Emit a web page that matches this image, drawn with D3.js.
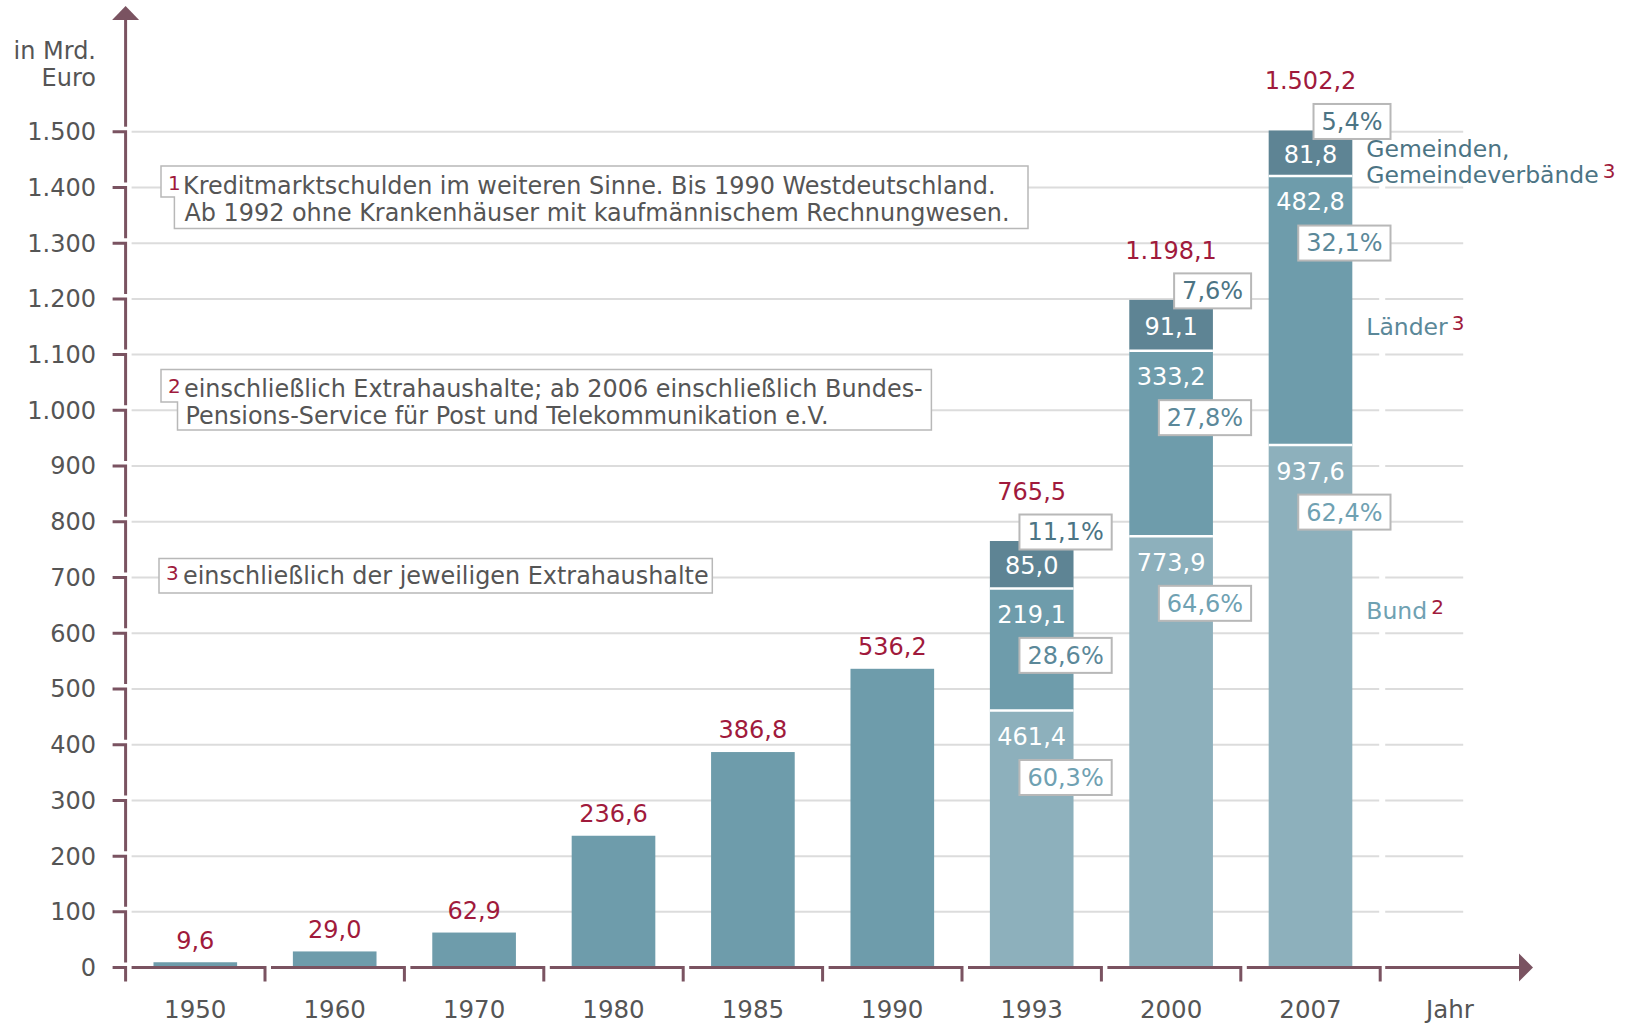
<!DOCTYPE html>
<html>
<head>
<meta charset="utf-8">
<script src="https://cdn.jsdelivr.net/npm/d3@7"></script>
<style>
  body { margin: 0; background: #fff; }
  svg { font-family: "DejaVu Sans", Verdana, sans-serif; }
</style>
</head>
<body>
<svg id="chart" width="1628" height="1024"></svg>
<script>
// data
var years = ["1950", "1960", "1970", "1980", "1985", "1990", "1993", "2000", "2007"];
var totals = [9.6, 29.0, 62.9, 236.6, 386.8, 536.2, 765.5, 1198.1, 1502.2];
var splitYears = ["1993", "2000", "2007"];
var bund = [461.4, 773.9, 937.6];
var laender = [219.1, 333.2, 482.8];
var gemeinden = [85.0, 91.1, 81.8];
var bundPct = [60.3, 64.6, 62.4];
var laenderPct = [28.6, 27.8, 32.1];
var gemeindenPct = [11.1, 7.6, 5.4];
var yTicks = [0, 100, 200, 300, 400, 500, 600, 700, 800, 900, 1000, 1100, 1200, 1300, 1400, 1500];

var notes = [
  { n: "1", lines: ["Kreditmarktschulden im weiteren Sinne. Bis 1990 Westdeutschland.",
                    "Ab 1992 ohne Krankenhäuser mit kaufmännischem Rechnungwesen."] },
  { n: "2", lines: ["einschließlich Extrahaushalte; ab 2006 einschließlich Bundes-",
                    "Pensions-Service für Post und Telekommunikation e.V."] },
  { n: "3", lines: ["einschließlich der jeweiligen Extrahaushalte"] }
];

var de = d3.formatLocale({ decimal: ",", thousands: ".", grouping: [3], currency: ["", " €"] });
var fmt1 = de.format(",.1f");
var fmtTick = de.format(",");

var axisCol = "#7a5361", red = "#a01a3c", grey = "#555", grid = "#dcdcdc";
var colBund = "#8db0bc", colLaender = "#6e9cab", colGem = "#5e8494";
var txtBund = "#6fa1b2", txtLaender = "#5b8899", txtGem = "#4c7484";
var fs = 24;

var svg = d3.select("#chart");

var x0 = 125.6, y0 = 967.6;
var x = d3.scaleBand().domain(years.concat(["Jahr"]))
  .range([x0, x0 + 10 * 139.4]).paddingInner(0.4).paddingOuter(0.2);
var step = x.step();
var y = d3.scaleLinear().domain([0, 1500]).range([y0, 131.7]);

// gridlines
var gEnd = x("Jahr") - step * 0.2;
yTicks.filter(function (t) { return t > 0; }).forEach(function (t) {
  svg.append("line").attr("x1", x0 + 6).attr("x2", gEnd - 1).attr("y1", y(t)).attr("y2", y(t))
    .attr("stroke", grid).attr("stroke-width", 2);
  svg.append("line").attr("x1", gEnd + 5).attr("x2", gEnd + 83).attr("y1", y(t)).attr("y2", y(t))
    .attr("stroke", grid).attr("stroke-width", 2);
});

// footnote boxes
var boxes = [
  { l: 161, li: 174.4, r: 1028, t: 166, s: 197, b: 228.5, tx: 183, by: 194 },
  { l: 161, li: 177.5, r: 931.4, t: 369.6, s: 402, b: 430, tx: 184, by: 397 },
  { l: 159, li: 159, r: 712.3, t: 558.6, s: 592.9, b: 592.9, tx: 183, by: 584 }
];
notes.forEach(function (nt, i) {
  var bx = boxes[i];
  svg.append("path")
    .attr("d", "M" + bx.l + "," + bx.t + "H" + bx.r + "V" + bx.b + "H" + bx.li + "V" + bx.s + "H" + bx.l + "Z")
    .attr("fill", "#fff").attr("stroke", "#b8b8b8").attr("stroke-width", 1.5);
  svg.append("text").attr("x", bx.l + 7).attr("y", bx.by - 4).attr("fill", red)
    .attr("font-size", 20).text(nt.n);
  nt.lines.forEach(function (ln, j) {
    svg.append("text").attr("x", bx.tx + j * 1.5).attr("y", bx.by + j * 27)
      .attr("fill", grey).attr("font-size", 23.9).text(ln);
  });
});

// single bars
var singles = years.filter(function (yr) { return splitYears.indexOf(yr) < 0; });
svg.selectAll("rect.single").data(singles).enter().append("rect")
  .attr("class", "single")
  .attr("x", function (d) { return x(d); })
  .attr("width", x.bandwidth())
  .attr("y", function (d) { return y(totals[years.indexOf(d)]); })
  .attr("height", function (d) { return y0 - y(totals[years.indexOf(d)]); })
  .attr("fill", colLaender);

svg.selectAll("text.single").data(singles).enter().append("text")
  .attr("x", function (d) { return x(d) + x.bandwidth() / 2; })
  .attr("y", function (d) { return y(totals[years.indexOf(d)]) - 22; })
  .attr("dy", "0.35em").attr("text-anchor", "middle")
  .attr("fill", red).attr("font-size", fs)
  .text(function (d) { return fmt1(totals[years.indexOf(d)]); });

// stacked bars
var rows = splitYears.map(function (yr, i) {
  return { year: yr, Bund: bund[i], Laender: laender[i], Gemeinden: gemeinden[i],
           pct: { Bund: bundPct[i], Laender: laenderPct[i], Gemeinden: gemeindenPct[i] } };
});
var keys = ["Bund", "Laender", "Gemeinden"];
var fills = { Bund: colBund, Laender: colLaender, Gemeinden: colGem };
var tcols = { Bund: txtBund, Laender: txtLaender, Gemeinden: txtGem };
var series = d3.stack().keys(keys)(rows);

series.forEach(function (s) {
  s.forEach(function (d) {
    var yr = d.data.year, bx = x(yr), bw = x.bandwidth();
    var top = y(d[1]), bot = y(d[0]);
    svg.append("rect").attr("x", bx).attr("width", bw).attr("y", top).attr("height", bot - top)
      .attr("fill", fills[s.key]);
    if (s.key !== "Bund") {
      svg.append("line").attr("x1", bx).attr("x2", bx + bw).attr("y1", bot).attr("y2", bot)
        .attr("stroke", "#fff").attr("stroke-width", 2.5);
    }
  });
});

series.forEach(function (s) {
  s.forEach(function (d) {
    var yr = d.data.year, bx = x(yr), bw = x.bandwidth(), cx = bx + bw / 2;
    var top = y(d[1]), bot = y(d[0]);
    var small = s.key === "Gemeinden";
    svg.append("text").attr("x", cx).attr("y", small ? (top + bot) / 2 + 1 : top + 26)
      .attr("dy", "0.35em").attr("text-anchor", "middle")
      .attr("fill", "#fff").attr("font-size", fs).text(fmt1(d[1] - d[0]));

    // percent box
    var cy = small ? top - 9 : top + 67;
    var g = svg.append("g");
    var t = g.append("text").attr("y", cy).attr("dy", "0.35em").attr("text-anchor", "end")
      .attr("fill", tcols[s.key]).attr("font-size", fs)
      .text(de.format(".1f")(d.data.pct[s.key]) + "%");
    var right = cx + 80;
    t.attr("x", right - 8);
    var w = t.node().getComputedTextLength() + 16;
    g.insert("rect", "text").attr("x", right - w).attr("y", cy - 17.5).attr("width", w).attr("height", 35)
      .attr("fill", "#fff").attr("stroke", "#b8b8b8").attr("stroke-width", 2);

    if (small) {
      svg.append("text").attr("x", cx).attr("y", cy - 17.5 - 23).attr("dy", "0.35em")
        .attr("text-anchor", "middle").attr("fill", red).attr("font-size", fs)
        .text(fmt1(totals[years.indexOf(yr)]));
    }
  });
});

// series labels at the right
var lx = x("2007") + x.bandwidth() + 14;
function seriesLabel(lines, cy, col, sup) {
  var t = svg.append("text").attr("fill", col).attr("font-size", 23.5);
  lines.forEach(function (ln, i) {
    t.append("tspan").attr("x", lx).attr("y", cy + i * 26).attr("dy", "0.35em").text(ln);
  });
  t.append("tspan").attr("dx", 4).attr("dy", "-5").attr("fill", red).attr("font-size", 20).text(sup);
}
seriesLabel(["Gemeinden,", "Gemeindeverbände"], 148.5, txtGem, "3");
seriesLabel(["Länder"], 327, txtLaender, "3");
seriesLabel(["Bund"], 610.5, txtBund, "2");

// y axis
var ya = svg.append("g").attr("fill", "none").attr("stroke", axisCol).attr("stroke-width", 3);
ya.append("path").attr("d", "M" + x0 + ",19V" + (y(1500) - 5));
yTicks.forEach(function (t) {
  var bottom = t === 0 ? y0 + 14 : y(t - 100) - 5;
  ya.append("path").attr("d", "M" + (x0 - 13) + "," + y(t) + "H" + x0 + "V" + bottom);
});
svg.append("path").attr("d", "M" + (x0 - 13.5) + ",20L" + x0 + ",6L" + (x0 + 13.5) + ",20Z").attr("fill", axisCol);

svg.selectAll("text.ytick").data(yTicks).enter().append("text")
  .attr("x", 96).attr("y", function (d) { return y(d); }).attr("dy", "0.35em")
  .attr("text-anchor", "end").attr("fill", grey).attr("font-size", fs)
  .text(function (d) { return fmtTick(d); });
svg.append("text").attr("x", 96).attr("y", 59).attr("text-anchor", "end").attr("fill", grey)
  .attr("font-size", fs).text("in Mrd.");
svg.append("text").attr("x", 96).attr("y", 86).attr("text-anchor", "end").attr("fill", grey)
  .attr("font-size", fs).text("Euro");

// x axis
years.forEach(function (yr) {
  var s = x(yr) - step * 0.2, e = s + step;
  ya.append("path").attr("d", "M" + (s + 6) + "," + y0 + "H" + e + "V" + (y0 + 14));
});
ya.append("path").attr("d", "M" + (gEnd + 5) + "," + y0 + "H" + 1521);
svg.append("path").attr("d", "M1519," + (y0 - 14) + "L1533," + y0 + "L1519," + (y0 + 14) + "Z").attr("fill", axisCol);

svg.selectAll("text.xtick").data(years.concat(["Jahr"])).enter().append("text")
  .attr("x", function (d) { return x(d) + x.bandwidth() / 2; })
  .attr("y", 1009).attr("dy", "0.35em").attr("text-anchor", "middle")
  .attr("fill", grey).attr("font-size", 24.5)
  .text(function (d) { return d; });
</script>
</body>
</html>
